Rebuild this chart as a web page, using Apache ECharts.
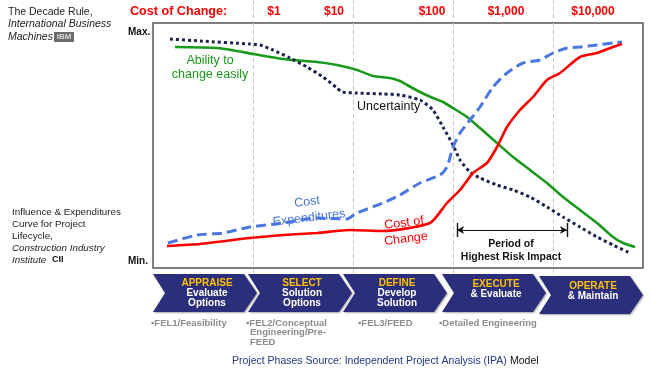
<!DOCTYPE html>
<html>
<head>
<meta charset="utf-8">
<script src="https://cdn.jsdelivr.net/npm/echarts@6/dist/echarts.min.js"></script>
<style>html,body{margin:0;padding:0;background:#fff}#c{width:650px;height:368px}</style>
</head>
<body>
<div id="c"></div>
<script>
// ---- data (x: project progress, y: relative level) ----
const abilityData = [[22,221],[64,220],[84,217],[100,214],[130,209],[164,206],[184,203],[204,198],[220,192],[237,190],[247,187],[254,183],[267,176],[280,170],[290,166],[300,160],[314,151],[327,140],[344,125],[360,111],[377,98],[394,85],[410,71],[427,58],[444,45],[460,31],[470,25],[482,21]];
const uncertaintyData = [[17,229],[47,227],[97,224],[107,223],[120,218],[137,210],[154,201],[170,191],[184,180],[189,176],[204,175],[230,174],[247,173],[267,168],[280,158],[290,141],[300,123],[307,108],[317,96],[327,90],[344,83],[360,78],[377,71],[394,61],[410,51],[427,41],[444,31],[460,23],[477,15]];
const expenditureData = [[15,25],[44,33],[70,35],[97,41],[130,45],[164,50],[194,49],[204,55],[230,65],[247,73],[267,85],[287,93],[294,101],[300,121],[307,135],[317,148],[327,161],[340,181],[354,195],[370,205],[387,208],[400,215],[414,220],[427,221],[444,223],[460,225],[469,226]];
const costOfChangeData = [[14,22],[47,24],[97,30],[130,33],[164,35],[197,38],[230,37],[277,45],[294,65],[307,78],[320,95],[334,105],[344,121],[354,141],[367,158],[380,171],[394,188],[407,195],[427,211],[444,215],[460,221],[469,224]];
const riskPeriod = [304, 414];
const costLabels = ['$1', '$10', '$100', '$1,000', '$10,000'];
const phaseTitles = ['APPRAISE', 'SELECT', 'DEFINE', 'EXECUTE', 'OPERATE'];
const phaseSubs = [['Evaluate', 'Options'], ['Solution', 'Options'], ['Develop', 'Solution'], ['& Evaluate'], ['& Maintain']];
const phaseDetails = [['▪FEL1/Feasibility'], ['▪FEL2/Conceptual', 'Engineering/Pre-', 'FEED'], ['▪FEL3/FEED'], ['▪Detailed Engineering']];

// ---- layout ----
const FONT = "'Liberation Sans', Arial, sans-serif";
const chart = echarts.init(document.getElementById('c'), null, {renderer: 'canvas'});
const GL = 153, GW = 490;

function txt(x, y, text, size, fill, opts) {
  opts = opts || {};
  return {type: 'text', x: x, y: y, z: 100, style: {text: text, fill: fill,
    font: (opts.style || '') + ' ' + (opts.weight || 'normal') + ' ' + size + 'px ' + FONT,
    align: opts.align || 'left', verticalAlign: 'middle'}, rotation: opts.rotation || 0};
}

const graphics = [];
// left texts
graphics.push(txt(8, 12, 'The Decade Rule,', 10.5, '#222'));
graphics.push(txt(8, 24.5, 'International Business', 10.5, '#222', {style: 'italic'}));
graphics.push(txt(8, 37, 'Machines', 10.5, '#222', {style: 'italic'}));
graphics.push({type: 'rect', shape: {x: 54, y: 32, width: 20, height: 10}, style: {fill: '#6a6a6a'}, z: 100});
graphics.push(txt(64, 37, 'IBM', 8, '#d8d8d8', {weight: 'bold', align: 'center'}));
graphics.push(txt(128, 32, 'Max.', 10, '#111', {weight: 'bold'}));
graphics.push(txt(128, 261, 'Min.', 10, '#111', {weight: 'bold'}));
const lowerLeft = ['Influence & Expenditures', 'Curve for Project', 'Lifecycle,'];
lowerLeft.forEach((t, i) => graphics.push(txt(12, 212 + i * 12, t, 9.8, '#222')));
graphics.push(txt(12, 248, 'Construction Industry', 9.8, '#222', {style: 'italic'}));
graphics.push(txt(12, 260, 'Institute', 9.8, '#222', {style: 'italic'}));
graphics.push(txt(52, 260, 'CII', 9, '#111', {weight: 'bold'}));

// cost of change row
graphics.push(txt(130, 12, 'Cost of Change:', 12.6, '#ff0000', {weight: 'bold'}));
const costX = [274, 334, 432, 506, 593];
costLabels.forEach((t, i) => graphics.push(txt(costX[i], 12, t, 12, '#ff0000', {weight: 'bold', align: 'center'})));

// annotations
graphics.push(txt(210, 61, 'Ability to', 12.5, '#1a9a1a', {align: 'center'}));
graphics.push(txt(210, 75, 'change easily', 12.5, '#1a9a1a', {align: 'center'}));
graphics.push(txt(357, 107, 'Uncertainty', 12.5, '#111'));
graphics.push({type: 'group', x: 308, y: 210, rotation: 0.12, z: 100, children: [
  txt(0, -8, 'Cost', 12.5, '#4a78e0', {align: 'center'}),
  txt(0, 8, 'Expenditures', 12.5, '#4a78e0', {align: 'center'})]});
graphics.push({type: 'group', x: 405, y: 231, rotation: 0.12, z: 100, children: [
  txt(0, -8, 'Cost of', 12.5, '#ff0000', {align: 'center'}),
  txt(0, 8, 'Change', 12.5, '#ff0000', {align: 'center'})]});
graphics.push(txt(511, 244, 'Period of', 10.5, '#111', {weight: 'bold', align: 'center'}));
graphics.push(txt(511, 257, 'Highest Risk Impact', 10.5, '#111', {weight: 'bold', align: 'center'}));

// chevrons
const chevL = [153, 248, 343, 442, 539];
chevL.forEach((L, i) => {
  const T = i === 4 ? 276 : 274, B = T + 38, M = (T + B) / 2, w = 104;
  graphics.push({type: 'polygon', z: 50, shape: {points: [[L, T], [L + w - 13, T], [L + w, M], [L + w - 13, B], [L, B], [L + 12, M]]},
    style: {fill: '#2b2e7a', shadowBlur: 2, shadowColor: 'rgba(0,0,0,0.35)', shadowOffsetX: 1, shadowOffsetY: 1}});
  const cx = L + 54;
  const subs = phaseSubs[i];
  const y0 = subs.length === 2 ? T + 9 : T + 10;
  graphics.push(txt(cx, y0, phaseTitles[i], 10, '#ffc000', {weight: 'bold', align: 'center'}));
  subs.forEach((s, j) => graphics.push(txt(cx, y0 + 10.5 + j * 10, s, 10, '#ffffff', {weight: 'bold', align: 'center'})));
});
const detX = [151, 246, 358, 439];
phaseDetails.forEach((lines, i) => lines.forEach((s, j) =>
  graphics.push(txt(detX[i] + (j > 0 ? 4 : 0), 323 + j * 9.8, s, 9.5, '#8c8c8c', {weight: 'bold'}))));
graphics.push({type: 'text', x: 232, y: 361, z: 100, style: {
  text: '{a|Project Phases Source: Independent Project Analysis (IPA)} {b|Model}', verticalAlign: 'middle',
  rich: {a: {fill: '#1f3a8c', font: '10.5px ' + FONT}, b: {fill: '#111', font: '10.5px ' + FONT}}}});

function splitX(gridIndex) {
  return {type: 'value', gridIndex: gridIndex, min: 0, max: GW, interval: 100,
    axisLine: {show: false}, axisTick: {show: false}, axisLabel: {show: false},
    splitLine: {show: true, showMinLine: false, showMaxLine: false, lineStyle: {color: '#c8c8c8', type: [4, 3], width: 1}}};
}
function hiddenY(gridIndex, max) {
  return {type: 'value', gridIndex: gridIndex, min: 0, max: max, show: false, splitLine: {show: false}};
}

const option = {
  animation: false,
  grid: [
    {left: GL, top: 23, width: GW, height: 245, show: true, borderColor: '#555', borderWidth: 1.5, backgroundColor: 'transparent'},
    {left: GL, top: 0, width: GW, height: 22},
    {left: GL, top: 269, width: GW, height: 6}
  ],
  xAxis: [splitX(0), splitX(1), splitX(2)],
  yAxis: [hiddenY(0, 245), hiddenY(1, 1), hiddenY(2, 1)],
  series: [
    {name: 'Ability to change easily', type: 'line', data: abilityData, showSymbol: false, smooth: 0.2,
      lineStyle: {color: '#1a9a1a', width: 2.6}},
    {name: 'Uncertainty', type: 'line', data: uncertaintyData, showSymbol: false, smooth: 0.2,
      lineStyle: {color: '#1b2450', width: 3, type: [3, 3]}},
    {name: 'Cost Expenditures', type: 'line', data: expenditureData, showSymbol: false, smooth: 0.2,
      lineStyle: {color: '#4a78e0', width: 3, type: [10, 5]}},
    {name: 'Cost of Change', type: 'line', data: costOfChangeData, showSymbol: false, smooth: 0.2,
      lineStyle: {color: '#ff0000', width: 2.6},
      markLine: {silent: true, symbol: ['arrow', 'arrow'], symbolSize: [6, 7], label: {show: false},
        lineStyle: {color: '#111', width: 1.2, type: 'solid'},
        data: [[{coord: [riskPeriod[0], 38]}, {coord: [riskPeriod[1], 38]}]]}},
    {type: 'line', data: [], markLine: {silent: true, symbol: 'none', label: {show: false},
      lineStyle: {color: '#111', width: 1.4, type: 'solid'},
      data: [[{coord: [riskPeriod[0], 45]}, {coord: [riskPeriod[0], 31]}], [{coord: [riskPeriod[1], 45]}, {coord: [riskPeriod[1], 31]}]]}}
  ],
  graphic: graphics
};
chart.setOption(option);
</script>
</body>
</html>
